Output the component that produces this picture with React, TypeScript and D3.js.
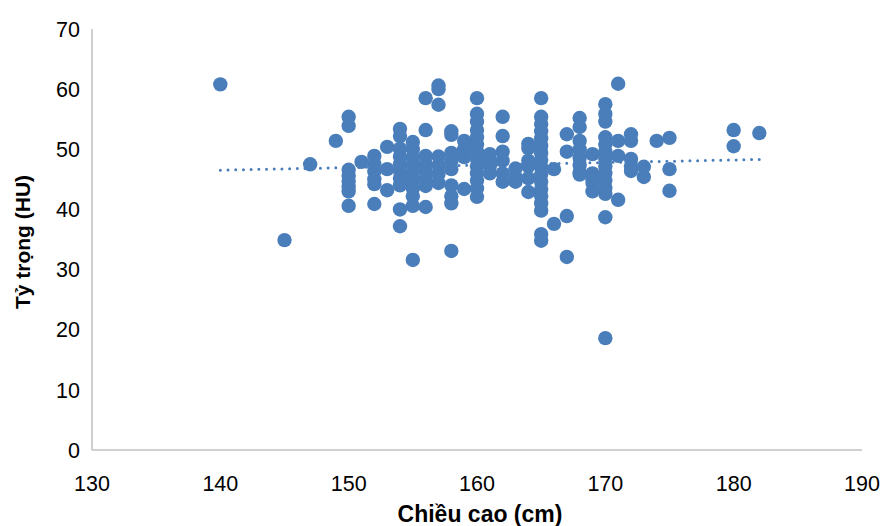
import React from "react";
import * as d3 from "d3";

// chiều cao (cm) và tỷ trọng (HU) — one pair per patient, grouped by height column
const heights = [
  140,
  145,
  147,
  149,
  150, 150, 150, 150, 150, 150, 150, 150,
  151,
  152, 152, 152, 152, 152, 152,
  153, 153, 153,
  154, 154, 154, 154, 154, 154, 154, 154, 154, 154,
  155, 155, 155, 155, 155, 155, 155, 155, 155, 155,
  156, 156, 156, 156, 156, 156, 156, 156,
  157, 157, 157, 157, 157, 157, 157,
  158, 158, 158, 158, 158, 158, 158, 158, 158,
  159, 159, 159, 159,
  160, 160, 160, 160, 160, 160, 160, 160, 160, 160, 160, 160, 160,
  161, 161, 161, 161,
  162, 162, 162, 162, 162, 162,
  163, 163, 163,
  164, 164, 164, 164, 164, 164,
  165, 165, 165, 165, 165, 165, 165, 165, 165, 165, 165, 165, 165, 165, 165, 165, 165,
  166, 166,
  167, 167, 167, 167,
  168, 168, 168, 168, 168, 168, 168, 168,
  169, 169, 169, 169, 169,
  170, 170, 170, 170, 170, 170, 170, 170, 170, 170, 170, 170, 170, 170,
  171, 171, 171, 171,
  172, 172, 172, 172, 172,
  173, 173,
  174,
  175, 175, 175,
  180, 180,
  182,
];

const hu = [
  60.8,
  34.9,
  47.5,
  51.4,
  55.4, 53.9, 46.6, 45.6, 44.7, 43.8, 43.0, 40.6,
  47.9,
  48.9, 47.6, 46.3, 45.0, 44.2, 40.9,
  50.4, 46.7, 43.2,
  53.4, 52.2, 50.1, 48.8, 47.6, 46.4, 45.2, 44.0, 40.0, 37.2,
  51.2, 50.0, 48.6, 47.3, 46.0, 44.8, 43.5, 42.2, 40.6, 31.6,
  58.5, 53.2, 48.9, 47.6, 46.4, 45.1, 43.9, 40.4,
  60.6, 60.0, 57.4, 48.8, 47.3, 45.9, 44.4,
  53.0, 52.4, 49.4, 48.0, 46.7, 44.0, 42.2, 41.0, 33.1,
  51.4, 50.0, 48.7, 43.4,
  58.5, 55.9, 54.6, 53.2, 52.0, 50.8, 49.6, 48.4, 47.2, 46.0, 44.8, 43.5, 42.1,
  49.2, 48.2, 47.2, 46.0,
  55.4, 52.2, 49.6, 48.1, 46.0, 44.6,
  46.8, 45.4, 44.6,
  50.9, 50.2, 48.1, 47.2, 45.2, 42.9,
  58.5, 55.4, 54.2, 53.0, 51.8, 50.6, 49.4, 48.2, 47.0, 45.8, 44.6, 43.4, 42.2, 41.0, 39.8, 35.9, 34.8,
  46.7, 37.6,
  52.5, 49.6, 38.9, 32.1,
  55.2, 53.7, 51.4, 50.0, 48.6, 47.4, 46.2, 45.8,
  49.2, 46.0, 45.0, 44.4, 43.0,
  57.5, 55.9, 54.6, 52.0, 50.8, 49.6, 48.4, 47.2, 46.0, 44.8, 43.6, 42.6, 38.7, 18.6,
  60.9, 51.4, 48.9, 41.6,
  52.5, 51.4, 48.4, 47.2, 46.4,
  47.1, 45.4,
  51.4,
  51.9, 46.7, 43.1,
  53.2, 50.5,
  52.7,
];

const xTicks = [130, 140, 150, 160, 170, 180, 190];
const yTicks = [0, 10, 20, 30, 40, 50, 60, 70];

export default function App() {
  const width = 885;
  const height = 526;
  const x = d3.scaleLinear().domain([130, 190]).range([92, 862]);
  const y = d3.scaleLinear().domain([0, 70]).range([450, 29]);

  const points = heights.map((h, i) => ({ h, v: hu[i] }));

  // linear trend line (least squares)
  const mx = d3.mean(heights) as number;
  const my = d3.mean(hu) as number;
  let sxy = 0;
  let sxx = 0;
  points.forEach((p) => {
    sxy += (p.h - mx) * (p.v - my);
    sxx += (p.h - mx) * (p.h - mx);
  });
  const slope = sxy / sxx;
  const icpt = my - slope * mx;
  const [x0, x1] = d3.extent(heights) as [number, number];
  const trend = d3.line<number>()
    .x((d) => x(d))
    .y((d) => y(icpt + slope * d))([x0, x1]);

  const font = "Liberation Sans, Arial, sans-serif";

  return (
    <svg width={width} height={height} style={{ position: "absolute", left: 0, top: 0 }}>
      <rect width={width} height={height} fill="#fff" />
      <line x1={x(130)} x2={x(130)} y1={y(70)} y2={y(0)} stroke="#c0c0c0" strokeWidth={1.5} />
      <line x1={x(130)} x2={x(190)} y1={y(0)} y2={y(0)} stroke="#c0c0c0" strokeWidth={1.5} />
      {yTicks.map((t) => (
        <text key={t} x={80} y={y(t)} dy="0.36em" textAnchor="end" fontFamily={font} fontSize={21.5} fill="#000">
          {t}
        </text>
      ))}
      {xTicks.map((t) => (
        <text key={t} x={x(t)} y={483} dy="0.36em" textAnchor="middle" fontFamily={font} fontSize={21.5} fill="#000">
          {t}
        </text>
      ))}
      {points.map((p, i) => (
        <circle key={i} cx={x(p.h)} cy={y(p.v)} r={7.2} fill="#4a7ebb" />
      ))}
      <path d={trend ?? ""} fill="none" stroke="#4a7ebb" strokeWidth={3} strokeDasharray="0 7.7" strokeLinecap="round" />
      <text
        transform={`translate(22,242) rotate(-90)`}
        textAnchor="middle"
        dy="0.36em"
        fontFamily={font}
        fontSize={21}
        fontWeight="bold"
        fill="#000"
      >
        Tỷ trọng (HU)
      </text>
      <text x={480} y={514} dy="0.36em" textAnchor="middle" fontFamily={font} fontSize={23} fontWeight="bold" fill="#000">
        Chiều cao (cm)
      </text>
    </svg>
  );
}
